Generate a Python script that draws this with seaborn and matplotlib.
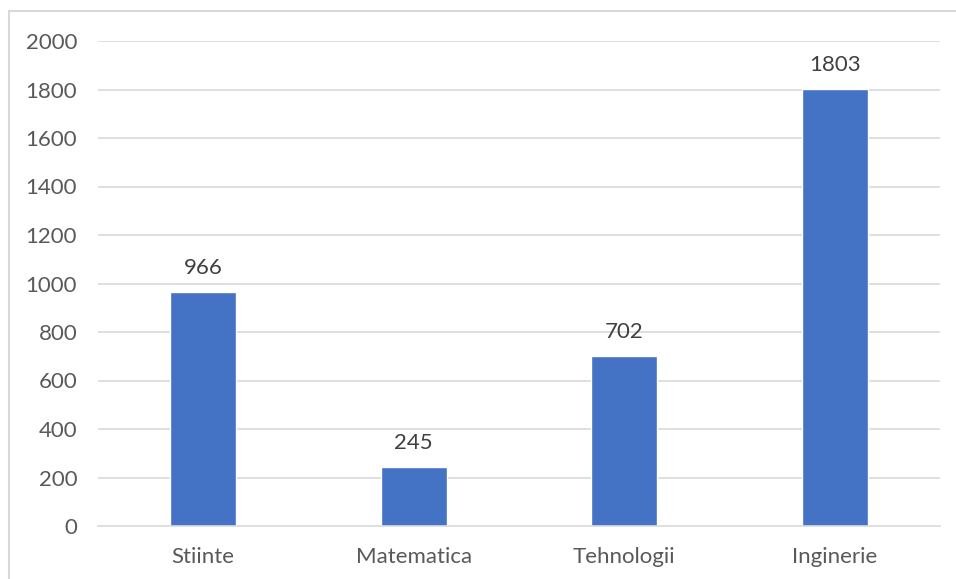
import matplotlib
matplotlib.use("Agg")
import matplotlib.pyplot as plt
from matplotlib.patches import Rectangle
import seaborn as sns
import pandas as pd

categories = ["Stiinte", "Matematica", "Tehnologii", "Inginerie"]
values = [966, 245, 702, 1803]
y_ticks = [0, 200, 400, 600, 800, 1000, 1200, 1400, 1600, 1800, 2000]

sns.set_theme(style="white")
plt.rcParams["font.family"] = ["Lato", "DejaVu Sans"]

text_color = "#595959"
grid_color = "#D9D9D9"
bar_color = "#4472C4"

df = pd.DataFrame({"domeniu": categories, "valoare": values})

fig = plt.figure(figsize=(9.56, 5.79), dpi=100)
ax = fig.add_axes([98 / 956, 1 - 526 / 579, (940 - 98) / 956, (526 - 41) / 579])

sns.barplot(data=df, x="domeniu", y="valoare", color=bar_color, width=0.315,
            saturation=1, ax=ax, zorder=3)

ax.set_ylim(0, 2000)
ax.set_yticks(y_ticks)
ax.set_yticklabels([str(t) for t in y_ticks])
ax.set_xlim(-0.5, len(categories) - 0.5)
ax.set_xlabel("")
ax.set_ylabel("")

for t in y_ticks[1:]:
    ax.axhline(t, color=grid_color, linewidth=1.2, zorder=1)

for side in ["left", "right", "top"]:
    ax.spines[side].set_visible(False)
ax.spines["bottom"].set_color(grid_color)
ax.spines["bottom"].set_linewidth(1.2)
ax.spines["bottom"].set_zorder(4)

ax.tick_params(axis="both", length=0, labelsize=16, labelcolor=text_color)
ax.tick_params(axis="y", pad=15)
ax.tick_params(axis="x", pad=15)

for c in ax.containers:
    ax.bar_label(c, labels=[str(v) for v in values], padding=10,
                 fontsize=16, color="#404040")

fig.patches.append(Rectangle((9 / 956, -0.05), 1.0, 1 - 11 / 579 + 0.05,
                             transform=fig.transFigure, fill=False,
                             edgecolor=grid_color, linewidth=1.5))

fig.savefig("out.png", dpi=100, facecolor="white")
